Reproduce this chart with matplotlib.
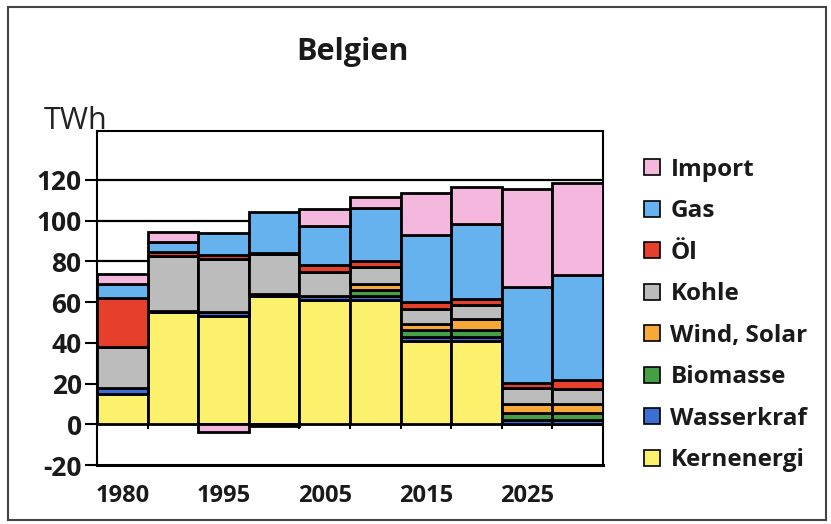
import numpy as np
import matplotlib
matplotlib.use('Agg')
import matplotlib.pyplot as plt
from matplotlib.patches import Rectangle, Patch

plt.rcParams['font.family'] = ['Open Sans', 'DejaVu Sans']

# data (TWh)
years = ['1980', '1990', '1995', '2000', '2005', '2010', '2015', '2020', '2025', '2030']
kernenergie = [15, 55, 53, 63, 61, 61, 41, 41, 0, 0]
wasserkraft = [3, 0.5, 2, 1, 2, 2, 2, 2, 2, 2]
biomasse    = [0, 0, 0, 0, 0, 3, 3.5, 3.5, 3.5, 3.5]
wind_solar  = [0, 0, 0, 0, 0, 3, 2.5, 5, 4.5, 4.5]
kohle       = [20, 27, 26, 19.5, 12, 8, 7.5, 7, 8, 7.5]
oel         = [24, 2, 2, 0.5, 3, 3, 3.5, 3, 2.5, 4]
gas         = [7, 5, 11, 20, 19.5, 26, 33, 37, 47, 52]
importe     = [5, 5, -4, -1, 8, 5.5, 20.5, 18, 48, 45]

series = [
    ('Kernenergi', kernenergie, '#fbf16c'),
    ('Wasserkraf', wasserkraft, '#3b6fd6'),
    ('Biomasse', biomasse, '#45a045'),
    ('Wind, Solar', wind_solar, '#f6a936'),
    ('Kohle', kohle, '#bcbcbc'),
    ('Öl', oel, '#e6402c'),
    ('Gas', gas, '#66b2ee'),
    ('Import', importe, '#f4b7dd'),
]

fig = plt.figure(figsize=(8.31, 5.24), dpi=100)
ax = fig.add_axes([97/831, 1 - 465/524, (603-97)/831, (465-131)/524])

x = np.arange(len(years))
pos_base = np.zeros(len(years))
neg_base = np.zeros(len(years))
for name, vals, col in series:
    vals = np.array(vals, dtype=float)
    bottom = np.where(vals >= 0, pos_base, neg_base)
    ax.bar(x, vals, width=1.0, bottom=bottom, color=col, edgecolor='black',
           linewidth=2.0, zorder=3)
    pos_base = pos_base + np.clip(vals, 0, None)
    neg_base = neg_base + np.clip(vals, None, 0)

ax.set_xlim(-0.5, len(years) - 0.5)
ax.set_ylim(-20, 144)
ax.set_yticks(range(-20, 121, 20))
ax.set_yticklabels([str(v) for v in range(-20, 121, 20)], fontsize=19, fontweight='bold',
                   color='#1a1a1a')
ax.set_xticks(x[::2])
ax.set_xticklabels(years[::2], fontsize=17, fontweight='bold', color='#1a1a1a')
ax.tick_params(axis='x', length=0, pad=14)
ax.tick_params(axis='y', length=9, width=1.5, direction='out', pad=2)
for y in range(0, 121, 20):
    ax.axhline(y, color='black', linewidth=1.6, zorder=1)
# category separators on the zero line
ax.vlines(np.arange(0.5, len(years) - 0.5), -2.5, 0, color='black', linewidth=1.5, zorder=2)
for s in ax.spines.values():
    s.set_linewidth(1.5)
ax.spines['bottom'].set_linewidth(2.2)

fig.text(352/831, 1 - 52/524, 'Belgien', fontsize=22, fontweight='bold', ha='center',
         va='center', color='#1a1a1a')
fig.text(44/831, 1 - 121/524, 'TWh', fontsize=22, ha='left', va='center', color='#222222')

handles = [Patch(facecolor=col, edgecolor='black', linewidth=1.2, label=name)
           for name, vals, col in series[::-1]]
fig.legend(handles=handles, loc='upper left', bbox_to_anchor=(634/831, 1 - 148/524),
           frameon=False, prop={'size': 17.5, 'weight': 'bold'}, handlelength=0.65,
           handleheight=0.65, handletextpad=0.45, labelspacing=0.72, borderaxespad=0,
           labelcolor='#1a1a1a')

fig.patches.append(Rectangle((8/831, 1 - 520/524), (826-8)/831, (520-7)/524,
                             transform=fig.transFigure, fill=False,
                             edgecolor='#444444', linewidth=1.5))

fig.savefig('out.png', dpi=100)
